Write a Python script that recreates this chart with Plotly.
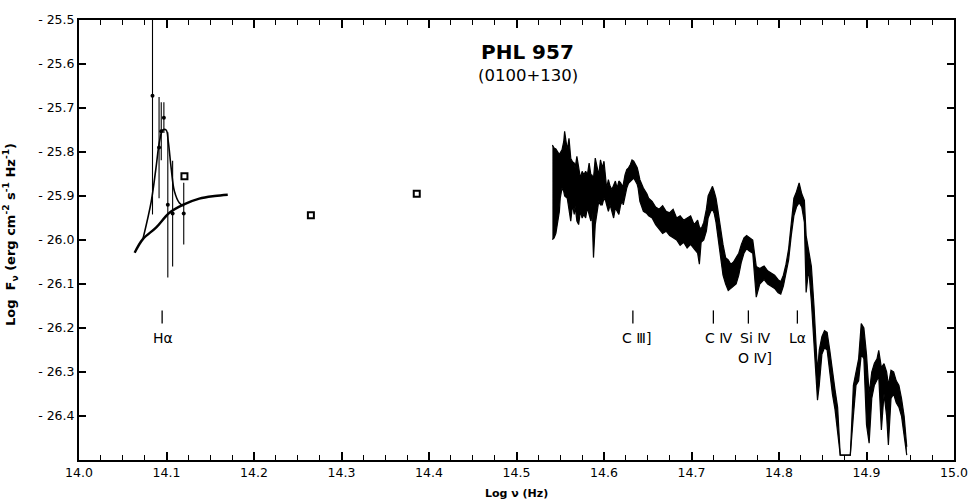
import plotly.graph_objects as go

# Optical/IR photometry around H-alpha (with error bars)
eb_x = [14.084, 14.0915, 14.094, 14.097, 14.1015, 14.107, 14.1197]
eb_y = [-25.672, -25.790, -25.753, -25.722, -25.920, -25.940, -25.940]
eb_err = [0.27, 0.115, 0.066, 0.035, 0.165, 0.12, 0.07]

# Broadband points (open squares)
sq_x = [14.1205, 14.265, 14.386]
sq_y = [-25.855, -25.944, -25.895]

# Continuum curve and H-alpha profile
cont_x = [14.0636, 14.073, 14.088, 14.1034, 14.12, 14.1375, 14.155, 14.17]
cont_y = [-26.029, -25.998, -25.972, -25.938, -25.919, -25.906, -25.900, -25.897]
ha_x = [14.073, 14.0826, 14.088, 14.092, 14.0958, 14.0996, 14.102, 14.1053, 14.109, 14.1148, 14.12]
ha_y = [-25.998, -25.912, -25.836, -25.776, -25.750, -25.750, -25.776, -25.836, -25.889, -25.916, -25.923]

# UV spectrum: upper and lower envelope of the noisy trace
spec_x = [14.541, 14.543, 14.545, 14.547, 14.549, 14.550, 14.552, 14.554, 14.555, 14.558,
          14.560, 14.562, 14.564, 14.566, 14.567, 14.569, 14.571, 14.573, 14.575, 14.577,
          14.579, 14.581, 14.583, 14.585, 14.586, 14.588, 14.590, 14.592, 14.594, 14.596,
          14.598, 14.600, 14.602, 14.603, 14.605, 14.607, 14.609, 14.611, 14.613, 14.615,
          14.617, 14.619, 14.621, 14.622, 14.624, 14.626, 14.628, 14.630, 14.632, 14.634,
          14.636, 14.638, 14.639, 14.641, 14.645, 14.649,
          14.651, 14.655, 14.659, 14.663, 14.667, 14.671, 14.675, 14.679, 14.683, 14.687,
          14.691, 14.695, 14.699, 14.703, 14.707, 14.709, 14.711, 14.714, 14.717, 14.719,
          14.722, 14.724, 14.726, 14.728, 14.730, 14.733, 14.736, 14.739, 14.742, 14.745,
          14.748, 14.751, 14.754, 14.757, 14.760, 14.763, 14.766,
          14.770, 14.774, 14.778, 14.783, 14.787, 14.791, 14.795, 14.799, 14.802, 14.805,
          14.808, 14.811, 14.814, 14.817, 14.820, 14.823, 14.826, 14.829, 14.831, 14.834,
          14.837, 14.840, 14.842, 14.844, 14.846, 14.849, 14.852, 14.855, 14.858, 14.861,
          14.864, 14.867, 14.8700, 14.876, 14.8815, 14.885, 14.888, 14.891, 14.894, 14.897,
          14.900, 14.903, 14.906, 14.909, 14.912, 14.914, 14.917, 14.920, 14.923, 14.925,
          14.928, 14.931, 14.934, 14.937, 14.940, 14.943, 14.946]
spec_hi = [-25.784, -25.791, -25.793, -25.799, -25.806, -25.802, -25.795, -25.776, -25.753, -25.795,
           -25.769, -25.814, -25.822, -25.825, -25.836, -25.810, -25.836, -25.859, -25.844, -25.852,
           -25.844, -25.852, -25.825, -25.852, -25.852, -25.859, -25.814, -25.836, -25.852, -25.818,
           -25.836, -25.821, -25.866, -25.882, -25.863, -25.878, -25.885, -25.874, -25.866, -25.882,
           -25.866, -25.870, -25.878, -25.874, -25.852, -25.840, -25.836, -25.829, -25.818, -25.821,
           -25.829, -25.836, -25.844, -25.863, -25.882, -25.895,
           -25.905, -25.912, -25.925, -25.930, -25.922, -25.935, -25.938, -25.930, -25.950, -25.945,
           -25.955, -25.950, -25.945, -25.965, -25.955, -25.970, -25.975, -25.960, -25.930, -25.900,
           -25.885, -25.878, -25.890, -25.905, -25.930, -25.975, -26.010, -26.040, -26.045, -26.055,
           -26.050, -26.040, -26.030, -26.010, -25.995, -25.990, -25.995,
           -26.000, -26.060, -26.065, -26.059, -26.070, -26.075, -26.080, -26.090, -26.095, -26.080,
           -26.055, -26.020, -25.960, -25.905, -25.890, -25.870, -25.895, -25.910, -25.990, -26.030,
           -26.060, -26.150, -26.230, -26.300, -26.250, -26.220, -26.206, -26.210, -26.250, -26.300,
           -26.340, -26.380, -26.489, -26.489, -26.489, -26.330, -26.300, -26.270, -26.190, -26.200,
           -26.260, -26.350, -26.300, -26.280, -26.270, -26.251, -26.290, -26.281, -26.300, -26.330,
           -26.296, -26.300, -26.320, -26.330, -26.360, -26.400, -26.470]
spec_lo = [-25.999, -25.995, -25.985, -25.957, -25.935, -25.905, -25.882, -25.890, -25.900, -25.905,
           -25.935, -25.957, -25.920, -25.942, -25.923, -25.957, -25.965, -25.935, -25.950, -25.942,
           -25.950, -25.927, -25.942, -25.957, -25.920, -26.040, -25.965, -25.935, -25.912, -25.920,
           -25.920, -25.905, -25.912, -25.920, -25.935, -25.920, -25.935, -25.950, -25.927, -25.935,
           -25.942, -25.920, -25.912, -25.920, -25.897, -25.882, -25.871, -25.866, -25.863, -25.859,
           -25.866, -25.874, -25.882, -25.912, -25.935, -25.940,
           -25.945, -25.950, -25.965, -25.975, -25.985, -25.980, -25.990, -25.995, -26.000, -26.012,
           -26.005, -26.018, -26.010, -26.020, -26.030, -26.055, -26.005, -26.000, -25.980, -25.950,
           -25.935, -25.930, -25.940, -25.960, -25.990, -26.040, -26.080, -26.100, -26.115, -26.110,
           -26.105, -26.100, -26.080, -26.050, -26.030, -26.020, -26.025,
           -26.030, -26.130, -26.100, -26.090, -26.100, -26.105, -26.110, -26.120, -26.123, -26.105,
           -26.075, -26.045, -25.990, -25.945, -25.925, -25.915, -25.925, -25.960, -26.119, -26.065,
           -26.140, -26.230, -26.300, -26.364, -26.330, -26.260, -26.245, -26.250, -26.300, -26.350,
           -26.385, -26.440, -26.489, -26.489, -26.489, -26.400, -26.330, -26.320, -26.260, -26.270,
           -26.420, -26.462, -26.360, -26.330, -26.320, -26.310, -26.432, -26.350, -26.400, -26.466,
           -26.360, -26.350, -26.370, -26.380, -26.400, -26.440, -26.489]

# Emission-line identifications
line_x = [14.095, 14.633, 14.725, 14.765, 14.821]
line_label_x = [14.0955, 14.6375, 14.7307, 14.7730, 14.8216]
line_labels = ["Hα", "C Ⅲ]", "C Ⅳ", "Si Ⅳ", "Lα"]
line_tick_top = -26.160
line_tick_bottom = -26.190
label_y = -26.222
extra_label = "O Ⅳ]"
extra_label_x = 14.7727
extra_label_y = -26.269

y_ticks = [-25.5, -25.6, -25.7, -25.8, -25.9, -26.0, -26.1, -26.2, -26.3, -26.4]
y_ticktext = ["- 25.5", "- 25.6", "- 25.7", "- 25.8", "- 25.9", "- 26.0",
              "- 26.1", "- 26.2", "- 26.3", "- 26.4"]
x_ticks = [14.0, 14.1, 14.2, 14.3, 14.4, 14.5, 14.6, 14.7, 14.8, 14.9, 15.0]
x_ticktext = ["14.0", "14.1", "14.2", "14.3", "14.4", "14.5", "14.6", "14.7", "14.8", "14.9", "15.0"]

FONT = "DejaVu Sans"
INK = "black"

fig = go.Figure()

# spectrum band
fig.add_trace(go.Scatter(x=spec_x, y=spec_hi, mode="lines",
                         line=dict(color=INK, width=1.2), hoverinfo="skip"))
fig.add_trace(go.Scatter(x=spec_x, y=spec_lo, mode="lines", fill="tonexty",
                         fillcolor=INK, line=dict(color=INK, width=1.2), hoverinfo="skip"))

# continuum and H-alpha profile
fig.add_trace(go.Scatter(x=cont_x, y=cont_y, mode="lines", line_shape="spline",
                         line=dict(color=INK, width=2.4)))
fig.add_trace(go.Scatter(x=ha_x, y=ha_y, mode="lines", line_shape="spline",
                         line=dict(color=INK, width=1.6)))

# photometry with error bars
fig.add_trace(go.Scatter(x=eb_x, y=eb_y, mode="markers",
                         marker=dict(color=INK, size=4),
                         error_y=dict(type="data", array=eb_err, visible=True,
                                      color=INK, thickness=1.1, width=0)))

# open squares
fig.add_trace(go.Scatter(x=sq_x, y=sq_y, mode="markers",
                         marker=dict(symbol="square-open", color=INK, size=6,
                                     line=dict(width=2, color=INK))))

# identification ticks
tick_xs, tick_ys = [], []
for lx in line_x:
    tick_xs += [lx, lx, None]
    tick_ys += [line_tick_top, line_tick_bottom, None]
fig.add_trace(go.Scatter(x=tick_xs, y=tick_ys, mode="lines",
                         line=dict(color=INK, width=1.3)))

for lx, txt in zip(line_label_x, line_labels):
    fig.add_annotation(x=lx, y=label_y, text=txt, showarrow=False,
                       font=dict(family=FONT, size=14, color=INK))
fig.add_annotation(x=extra_label_x, y=extra_label_y, text=extra_label, showarrow=False,
                   font=dict(family=FONT, size=14, color=INK))

# object name
fig.add_annotation(xref="paper", yref="paper", x=0.5125, y=0.9276, text="<b>PHL 957</b>",
                   xanchor="center", yanchor="middle",
                   showarrow=False, font=dict(family=FONT, size=20, color=INK))
fig.add_annotation(xref="paper", yref="paper", x=0.5135, y=0.873, text="(0100+130)",
                   xanchor="center", yanchor="middle",
                   showarrow=False, font=dict(family=FONT, size=16.5, color=INK))

# axis titles
fig.add_annotation(xref="paper", yref="paper", x=-0.078, y=0.513, textangle=-90,
                   xanchor="center", yanchor="middle",
                   text="<b>Log  F<sub>ν</sub> (erg cm<sup>-2</sup> s<sup>-1</sup> Hz<sup>-1</sup>)</b>",
                   showarrow=False, font=dict(family=FONT, size=13, color=INK))
fig.add_annotation(xref="paper", yref="paper", x=0.5, y=-0.0755, text="<b>Log ν (Hz)</b>",
                   xanchor="center", yanchor="middle",
                   showarrow=False, font=dict(family=FONT, size=11, color=INK))

axis_common = dict(showline=True, linewidth=2, linecolor=INK, mirror="ticks",
                   ticks="inside", tickcolor=INK, tickwidth=1.5, showgrid=False,
                   zeroline=False)

fig.update_xaxes(range=[14.0, 15.0], tickmode="array", tickvals=x_ticks, ticktext=x_ticktext,
                 ticklen=8,
                 minor=dict(ticks="inside", dtick=0.025, tick0=14.0, ticklen=5,
                            tickcolor=INK, tickwidth=1.3, showgrid=False),
                 tickfont=dict(family=FONT, size=12.5, color=INK), **axis_common)
fig.update_yaxes(range=[-26.5, -25.5], tickmode="array", tickvals=y_ticks, ticktext=y_ticktext,
                 ticklen=7, tickfont=dict(family=FONT, size=12.5, color=INK),
                 **axis_common)

fig.update_layout(width=980, height=503, showlegend=False,
                  margin=dict(l=79, r=21, t=18, b=43),
                  plot_bgcolor="white", paper_bgcolor="white",
                  font=dict(family=FONT, color=INK))

fig.write_html("out.html")
